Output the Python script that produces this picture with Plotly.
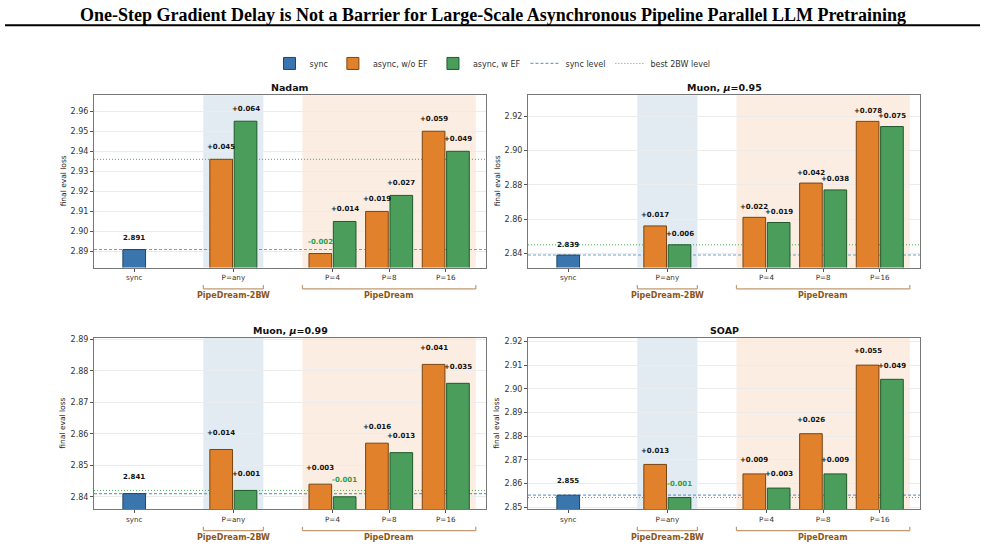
import plotly.graph_objects as go

# ---------------- data ----------------
panel_titles = ["Nadam", "Muon, <i>μ</i>=0.95", "Muon, <i>μ</i>=0.99", "SOAP"]
categories = ["sync", "P=any", "P=4", "P=8", "P=16"]
sync_vals = [2.891, 2.839, 2.841, 2.855]
# async, w/o EF : P=any, P=4, P=8, P=16
noef_vals = [
    [2.936, 2.889, 2.910, 2.950],
    [2.856, 2.861, 2.881, 2.917],
    [2.855, 2.844, 2.857, 2.882],
    [2.868, 2.864, 2.881, 2.910],
]
# async, w EF : P=any, P=4, P=8, P=16
ef_vals = [
    [2.955, 2.905, 2.918, 2.940],
    [2.845, 2.858, 2.877, 2.914],
    [2.842, 2.840, 2.854, 2.876],
    [2.854, 2.858, 2.864, 2.904],
]
y_ranges = [[2.882, 2.968], [2.8317, 2.9323], [2.836, 2.8904], [2.849, 2.9215]]
y_ticks = [
    [2.89, 2.90, 2.91, 2.92, 2.93, 2.94, 2.95, 2.96],
    [2.84, 2.86, 2.88, 2.90, 2.92],
    [2.84, 2.85, 2.86, 2.87, 2.88, 2.89],
    [2.85, 2.86, 2.87, 2.88, 2.89, 2.90, 2.91, 2.92],
]
group_labels = ["PipeDream-2BW", "PipeDream"]

# ---------------- layout constants ----------------
W, H = 985, 551
cat_pos = [0.0, 1.75, 3.5, 4.5, 5.5]
x_range = [-0.71, 6.21]
bar_w = 0.40
off = 0.215
label_shift = [12, 10.5, 16.5, 13.7]
BLUE, ORANGE, GREEN = "#3a75ae", "#e1812c", "#4a9d5b"
EDGE = {"b": "#1e4663", "o": "#7a4413", "g": "#1f5a2c"}
NEG = "#2e9e44"
BR_LINE = "#c09a72"
BR_TEXT = "#8c5716"
SYNC_LINE = "rgba(70,130,195,0.75)"
BEST_LINE = "rgba(58,165,70,0.9)"

# pixel boxes of the 4 panels: (left, right, top, bottom)
boxes = [(94, 486, 93, 267), (528, 920, 93, 267), (94, 486, 338, 511), (528, 920, 338, 511)]

fig = go.Figure()
layout = dict(width=W, height=H, margin=dict(l=0, r=0, t=0, b=0),
              paper_bgcolor="white", plot_bgcolor="white",
              barmode="overlay", showlegend=True,
              font=dict(family="DejaVu Sans", color="#222"))
shapes, annotations = [], []

for i in range(4):
    L, R, T, B = boxes[i]
    ax = "" if i == 0 else str(i + 1)
    xa, ya = "x" + ax, "y" + ax
    layout["xaxis" + ax] = dict(domain=[L / W, R / W], range=x_range, anchor=ya,
                                tickvals=cat_pos, ticktext=categories,
                                tickfont=dict(size=7.2, color="#333"),
                                ticks="outside", ticklen=3, tickcolor="#555",
                                showgrid=False, zeroline=False,
                                showline=True, mirror=True, linecolor="#777", linewidth=1)
    layout["yaxis" + ax] = dict(domain=[1 - B / H, 1 - T / H], range=y_ranges[i], anchor=xa,
                                tickvals=y_ticks[i], tickformat=".2f",
                                tickfont=dict(size=8, color="#333"),
                                ticks="outside", ticklen=3, tickcolor="#555",
                                showgrid=True, gridcolor="#ececec", gridwidth=1, zeroline=False,
                                showline=True, mirror=True, linecolor="#777", linewidth=1)

    # shaded regions
    g1 = (cat_pos[1] - 0.53, cat_pos[1] + 0.53)
    g2 = (cat_pos[2] - 0.53, cat_pos[4] + 0.53)
    shapes.append(dict(type="rect", xref=xa, yref=ya + " domain", x0=g1[0], x1=g1[1], y0=0, y1=1,
                       fillcolor="rgba(50,116,161,0.14)", line=dict(width=0), layer="below"))
    shapes.append(dict(type="rect", xref=xa, yref=ya + " domain", x0=g2[0], x1=g2[1], y0=0, y1=1,
                       fillcolor="rgba(225,129,44,0.14)", line=dict(width=0), layer="below"))
    # level lines (below bars)
    shapes.append(dict(type="line", xref=xa + " domain", yref=ya, x0=0, x1=1,
                       y0=sync_vals[i], y1=sync_vals[i],
                       line=dict(color=SYNC_LINE, width=1.1, dash="3px,2px"), layer="below"))
    best2bw = min(noef_vals[i][0], ef_vals[i][0])
    shapes.append(dict(type="line", xref=xa + " domain", yref=ya, x0=0, x1=1,
                       y0=best2bw, y1=best2bw,
                       line=dict(color=BEST_LINE, width=1, dash="1px,2px"), layer="below"))

    # bars
    first = i == 0
    fig.add_trace(go.Bar(x=[cat_pos[0]], y=[sync_vals[i]], width=bar_w, name="sync",
                         marker=dict(color=BLUE, line=dict(color=EDGE["b"], width=1)),
                         xaxis=xa, yaxis=ya, showlegend=first, legendgroup="sync"))
    fig.add_trace(go.Bar(x=[p - off for p in cat_pos[1:]], y=noef_vals[i], width=bar_w,
                         name="async, w/o EF",
                         marker=dict(color=ORANGE, line=dict(color=EDGE["o"], width=1)),
                         xaxis=xa, yaxis=ya, showlegend=first, legendgroup="noef"))
    fig.add_trace(go.Bar(x=[p + off for p in cat_pos[1:]], y=ef_vals[i], width=bar_w,
                         name="async, w EF",
                         marker=dict(color=GREEN, line=dict(color=EDGE["g"], width=1)),
                         xaxis=xa, yaxis=ya, showlegend=first, legendgroup="ef"))

    # value labels
    annotations.append(dict(x=cat_pos[0], y=sync_vals[i], xref=xa, yref=ya,
                            text="<b>%.3f</b>" % sync_vals[i], showarrow=False,
                            yanchor="middle", yshift=label_shift[i],
                            font=dict(size=7, color="#111")))
    for j in range(4):
        for val, dx in ((noef_vals[i][j], -off), (ef_vals[i][j], off)):
            d = round(val - sync_vals[i], 3)
            annotations.append(dict(x=cat_pos[j + 1] + dx, y=val, xref=xa, yref=ya,
                                    text="<b>%+.3f</b>" % d, showarrow=False,
                                    yanchor="middle", yshift=label_shift[i],
                                    font=dict(size=7, color=NEG if d < 0 else "#111")))

    # panel title
    annotations.append(dict(x=(L + R) / 2 / W, y=1 - (T - 8) / H, xref="paper", yref="paper",
                            text="<b>%s</b>" % panel_titles[i], showarrow=False,
                            xanchor="center", yanchor="middle", font=dict(size=9.5, color="#111")))
    # y axis title
    annotations.append(dict(x=(L - 31) / W, y=1 - (T + B) / 2 / H, xref="paper", yref="paper",
                            text="final eval loss", textangle=-90, showarrow=False,
                            xanchor="center", yanchor="middle", font=dict(size=7.5, color="#222")))

    # brackets under the axis
    yb = 1 - (B + 21.5) / H
    yt = 1 - (B + 17.5) / H
    ylab = 1 - (B + 28.5) / H
    for (a, b), lab in zip((g1, g2), group_labels):
        shapes.append(dict(type="line", xref=xa, yref="paper", x0=a, x1=b, y0=yb, y1=yb,
                           line=dict(color=BR_LINE, width=1.2)))
        shapes.append(dict(type="line", xref=xa, yref="paper", x0=a, x1=a, y0=yb, y1=yt,
                           line=dict(color=BR_LINE, width=1.2)))
        shapes.append(dict(type="line", xref=xa, yref="paper", x0=b, x1=b, y0=yb, y1=yt,
                           line=dict(color=BR_LINE, width=1.2)))
        annotations.append(dict(x=(a + b) / 2, y=ylab, xref=xa, yref="paper",
                                text="<b>%s</b>" % lab, showarrow=False,
                                xanchor="center", yanchor="middle",
                                font=dict(size=8, color=BR_TEXT)))

# legend-only line entries
fig.add_trace(go.Scatter(x=[None], y=[None], mode="lines", name="sync level",
                         line=dict(color=SYNC_LINE, width=1.2, dash="3px,2px")))
fig.add_trace(go.Scatter(x=[None], y=[None], mode="lines", name="best 2BW level",
                         line=dict(color=BEST_LINE, width=1, dash="1px,2px")))

# title and rule
annotations.append(dict(x=0.5, y=1 - 12 / H, xref="paper", yref="paper",
                        text="<b>One-Step Gradient Delay is Not a Barrier for Large-Scale Asynchronous Pipeline Parallel LLM Pretraining</b>",
                        showarrow=False, xanchor="center", yanchor="middle",
                        font=dict(family="Liberation Serif", size=18, color="black")))
shapes.append(dict(type="line", xref="paper", yref="paper", x0=5 / W, x1=980 / W,
                   y0=1 - 22.5 / H, y1=1 - 22.5 / H, line=dict(color="black", width=2)))

layout["legend"] = dict(orientation="h", x=0.5, xanchor="center", y=1 - 61 / H, yanchor="middle",
                        font=dict(size=8, color="#333"), bgcolor="rgba(0,0,0,0)",
                        itemwidth=30, traceorder="normal")
layout["shapes"] = shapes
layout["annotations"] = annotations
fig.update_layout(**layout)
fig.write_html("out.html")
